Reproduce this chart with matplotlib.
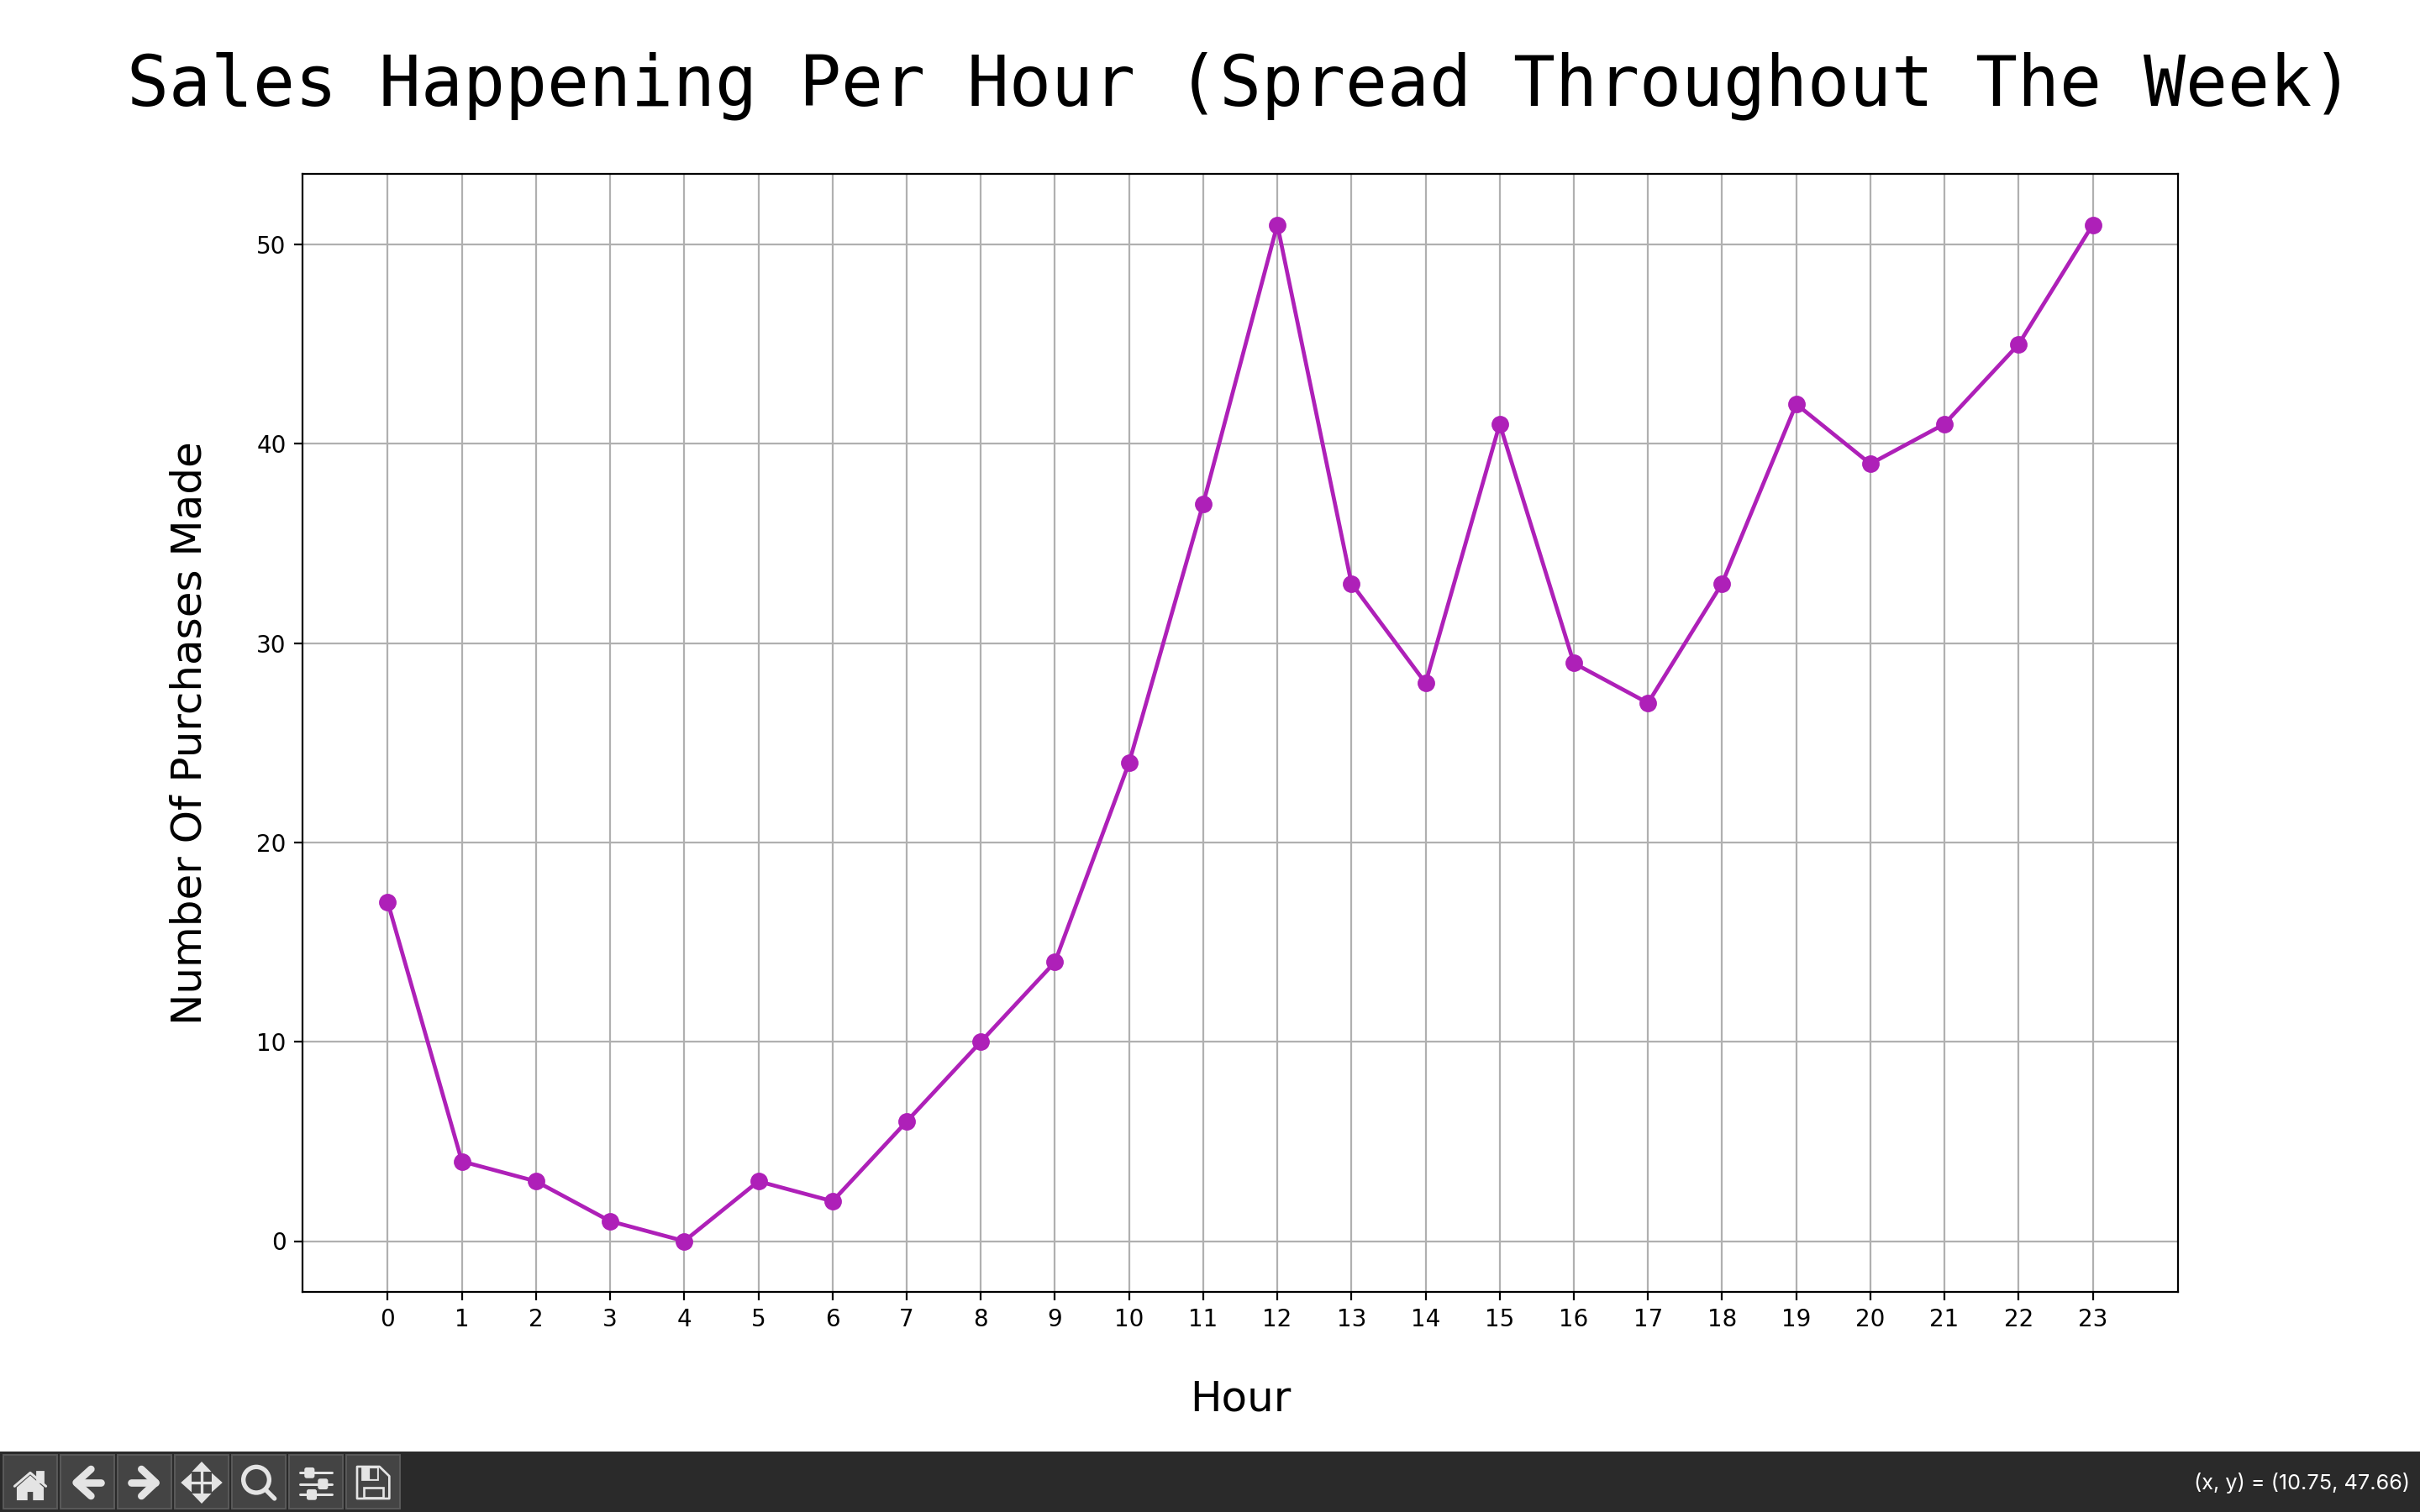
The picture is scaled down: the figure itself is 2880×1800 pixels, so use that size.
import matplotlib
matplotlib.use('Agg')
import matplotlib.pyplot as plt
from matplotlib.patches import Rectangle, Polygon, Circle, FancyBboxPatch

# Data
hours = list(range(24))
purchases = [17, 4, 3, 1, 0, 3, 2, 6, 10, 14, 24, 37, 51, 33, 28, 41, 29, 27, 33, 42, 39, 41, 45, 51]
y_ticks = [0, 10, 20, 30, 40, 50]
readout = '(x, y) = (10.75, 47.66)'

fig = plt.figure(figsize=(14.4, 9), dpi=200)
ax = fig.add_axes([360 / 2880, 1 - 1538 / 1800, (2592 - 360) / 2880, (1538 - 207) / 1800])

ax.plot(hours, purchases, color='#ae20b8', marker='o', markersize=6.5, linewidth=1.7)
ax.set_xticks(hours)
ax.set_yticks(y_ticks)
ax.tick_params(labelsize=10)
ax.grid(True)
ax.set_xlabel('Hour', fontsize=18, labelpad=20)
ax.set_ylabel('Number Of Purchases Made', fontsize=18, labelpad=20)

fig.text(0.5125, 0.943, 'Sales Happening Per Hour (Spread Throughout The Week)',
         fontsize=29.94, family='DejaVu Sans Mono', ha='center', va='center')

# Toolbar strip, drawn in its own axes (units are 1/3 of a pixel)
bar = fig.add_axes([0, 0, 1, 72 / 1800])
bar.set_xlim(0, 8640)
bar.set_ylim(300, 84)
bar.axis('off')
bar.add_patch(Rectangle((0, 84), 8640, 216, color='#2a2a2a'))
ICON = '#e4e4e4'
BG = '#444444'


def pts(u):
    return u / 8.33


def stroke(xs, ys, width, color=ICON):
    bar.plot(xs, ys, color=color, lw=pts(width), solid_capstyle='round', solid_joinstyle='round')


for i in range(7):
    bar.add_patch(Rectangle((13 + i * 204, 97), 190, 190, facecolor=BG, edgecolor='#5a5a5a', lw=0.7))

# home
bar.add_patch(Rectangle((132, 156), 20, 36, color=ICON))
stroke([52, 108, 164], [208, 160, 208], 9)
bar.add_patch(Polygon([(64, 214), (108, 175), (152, 214), (152, 254), (122, 254), (122, 224), (94, 224), (94, 254), (64, 254)], color=ICON))
# back
stroke([272, 360], [195, 195], 26)
stroke([325, 272, 325], [147, 195, 243], 26)
# forward
stroke([468, 556], [195, 195], 26)
stroke([505, 556, 505], [147, 195, 243], 26)
# move
stroke([720, 720], [140, 250], 10)
stroke([665, 775], [195, 195], 10)
bar.add_patch(Polygon([(720, 126), (745, 152), (695, 152)], color=ICON))
bar.add_patch(Polygon([(720, 264), (745, 238), (695, 238)], color=ICON))
bar.add_patch(Polygon([(652, 195), (680, 170), (680, 220)], color=ICON))
bar.add_patch(Polygon([(788, 195), (760, 170), (760, 220)], color=ICON))
# zoom
bar.add_patch(Circle((915, 185), 46, facecolor='none', edgecolor=ICON, lw=pts(16)))
stroke([950, 980], [222, 252], 16)
# sliders
for y, x0 in [(160, 1090), (200, 1138), (238, 1098)]:
    stroke([1072, 1184], [y, y], 9)
    bar.add_patch(FancyBboxPatch((x0 + 4, y - 12), 22, 24, boxstyle='round,pad=3,rounding_size=4', color=ICON))
# save
bar.add_patch(Polygon([(1275, 138), (1355, 138), (1390, 172), (1390, 252), (1275, 252)], facecolor='none', edgecolor=ICON, lw=pts(8), joinstyle='round'))
bar.add_patch(Rectangle((1292, 138), 54, 46, color=ICON))
bar.add_patch(Rectangle((1322, 146), 18, 30, color=BG))
bar.add_patch(Rectangle((1300, 212), 68, 38, facecolor='none', edgecolor=ICON, lw=pts(8)))

fig.text(2868 / 2880, 35 / 1800, readout, color='white', fontsize=9.1, ha='right', va='center', family='Inter')

fig.savefig('out.png', dpi=200)
